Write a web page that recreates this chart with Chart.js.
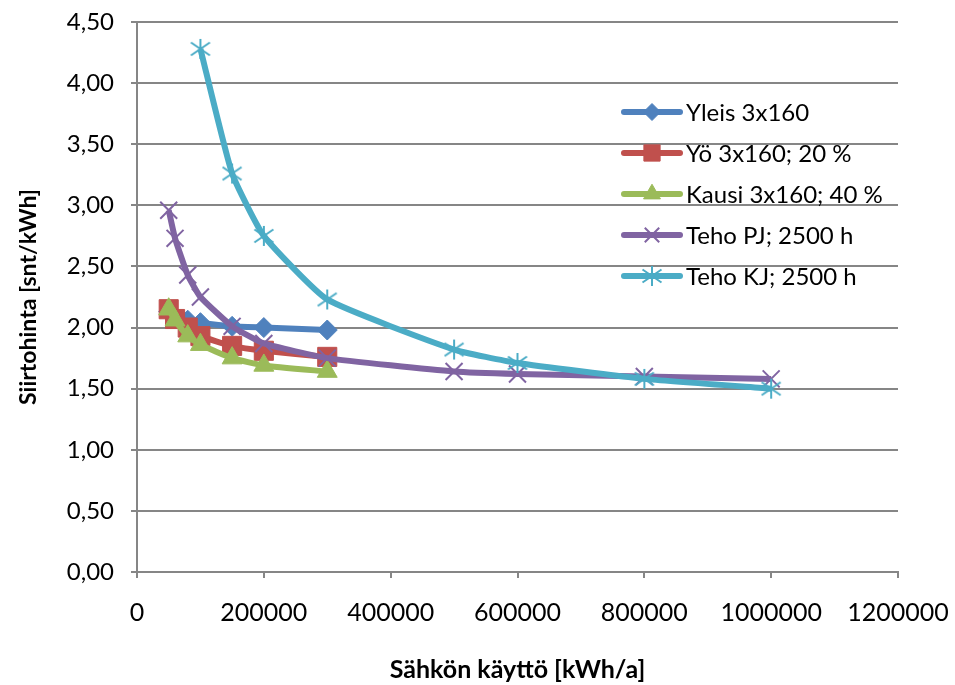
<!DOCTYPE html>
<html>
<head>
<meta charset="utf-8">
<script src="https://cdn.jsdelivr.net/npm/chart.js@4"></script>
<style>
  html, body { margin: 0; padding: 0; background: #fff; }
  #wrap { width: 955px; height: 685px; }
</style>
</head>
<body>
<div id="wrap"><canvas id="mycanvas" width="955" height="685"></canvas></div>
<script>
// data
var kayttoLyhyt = [50000, 60000, 80000, 100000, 150000, 200000, 300000];
var kayttoPJ = [50000, 60000, 80000, 100000, 150000, 200000, 300000, 500000, 600000, 800000, 1000000];
var kayttoKJ = [100000, 150000, 200000, 300000, 500000, 600000, 800000, 1000000];

var yleis = [2.13, 2.09, 2.06, 2.04, 2.01, 2.00, 1.98];
var yo = [2.15, 2.07, 2.00, 1.93, 1.85, 1.81, 1.76];
var kausi = [2.15, 2.06, 1.93, 1.86, 1.75, 1.69, 1.64];
var tehoPJ = [2.96, 2.73, 2.43, 2.25, 2.01, 1.87, 1.75, 1.64, 1.62, 1.60, 1.58];
var tehoKJ = [4.28, 3.26, 2.75, 2.23, 1.82, 1.71, 1.58, 1.50];

var sarjat = ['Yleis 3x160', 'Yö 3x160; 20 %', 'Kausi 3x160; 40 %', 'Teho PJ; 2500 h', 'Teho KJ; 2500 h'];
var varit = ['#4F81BD', '#C0504D', '#9BBB59', '#8064A2', '#4BACC6'];

var fontti = 'Lato, "Open Sans", sans-serif';

// excel style asterisk: X plus vertical bar
function tahti(vari) {
  var c = document.createElement('canvas');
  c.width = 24; c.height = 24;
  var g = c.getContext('2d');
  g.strokeStyle = vari;
  g.lineWidth = 2;
  g.beginPath();
  g.moveTo(12, 2); g.lineTo(12, 22);
  g.moveTo(2.5, 5.5); g.lineTo(21.5, 18.5);
  g.moveTo(2.5, 18.5); g.lineTo(21.5, 5.5);
  g.stroke();
  return c;
}

var merkit = ['rectRot', 'rect', 'triangle', 'crossRot', tahti(varit[4])];
var koot = [10, 13.5, 11.5, 12, 12];
var reunat = [1, 1, 1, 2, 2];

function pisteet(xs, ys) {
  var out = [];
  for (var i in xs) out.push({x: xs[i], y: ys[i]});
  return out;
}

var arvot = [
  pisteet(kayttoLyhyt, yleis),
  pisteet(kayttoLyhyt, yo),
  pisteet(kayttoLyhyt, kausi),
  pisteet(kayttoPJ, tehoPJ),
  pisteet(kayttoKJ, tehoKJ)
];

var datasets = [];
for (var i = 0; i < sarjat.length; i++) {
  datasets.push({
    label: sarjat[i],
    data: arvot[i],
    borderColor: varit[i],
    backgroundColor: varit[i],
    borderWidth: 6,
    pointStyle: merkit[i],
    pointRadius: koot[i],
    pointBorderWidth: reunat[i],
    pointBorderColor: varit[i],
    pointBackgroundColor: varit[i],
    tension: 0.15,
    order: sarjat.length - i
  });
}

// legend drawn inside the plot area
var selite = {
  id: 'selite',
  afterDraw: function(chart) {
    var ctx = chart.ctx;
    ctx.save();
    for (var i = 0; i < sarjat.length; i++) {
      var y = 112 + i * 41;
      ctx.strokeStyle = varit[i];
      ctx.fillStyle = varit[i];
      ctx.lineWidth = 6;
      ctx.lineCap = 'round';
      ctx.beginPath();
      ctx.moveTo(624, y);
      ctx.lineTo(680, y);
      ctx.stroke();
      ctx.lineCap = 'butt';
      ctx.lineWidth = reunat[i];
      Chart.helpers.drawPoint(ctx, {pointStyle: merkit[i], radius: koot[i] * 0.85, rotation: 0, borderWidth: reunat[i]}, 652, y);
      ctx.fillStyle = '#000';
      ctx.font = '24px ' + fontti;
      ctx.textBaseline = 'middle';
      ctx.textAlign = 'left';
      ctx.fillText(sarjat[i], 686, y + 1);
    }
    ctx.restore();
  }
};

var ctx = document.getElementById('mycanvas');
var chart = new Chart(ctx, {
  type: 'line',
  data: {datasets: datasets},
  plugins: [selite],
  options: {
    responsive: false,
    animation: false,
    layout: {padding: {left: 0, right: 57, top: 22, bottom: 0}},
    plugins: {legend: {display: false}, tooltip: {enabled: false}},
    scales: {
      x: {
        type: 'linear',
        min: 0,
        max: 1200000,
        afterFit: function(s) { s.height = 113; s.paddingLeft = 0; s.paddingRight = 0; },
        ticks: {stepSize: 200000, color: '#000', font: {family: fontti, size: 25}, padding: 20,
                callback: function(v) { return String(v); }, maxRotation: 0},
        grid: {drawOnChartArea: false, color: '#868686', lineWidth: 2, tickLength: 6},
        border: {color: '#868686', width: 2},
        title: {display: true, text: 'Sähkön käyttö [kWh/a]', color: '#000',
                font: {family: fontti, size: 25, weight: 'bold'}, padding: {top: 0, bottom: 0}}
      },
      y: {
        min: 0,
        max: 4.5,
        afterFit: function(s) { s.width = 137; s.paddingTop = 0; s.paddingBottom = 0; },
        ticks: {stepSize: 0.5, color: '#000', font: {family: fontti, size: 24}, padding: 17,
                callback: function(v) { return v.toFixed(2).replace('.', ','); }},
        grid: {color: '#868686', lineWidth: 2, tickLength: 6},
        border: {color: '#868686', width: 2},
        title: {display: true, text: 'Siirtohinta [snt/kWh]', color: '#000',
                font: {family: fontti, size: 23, weight: 'bold'}, padding: {top: 15, bottom: 15}}
      }
    }
  }
});
</script>
</body>
</html>
